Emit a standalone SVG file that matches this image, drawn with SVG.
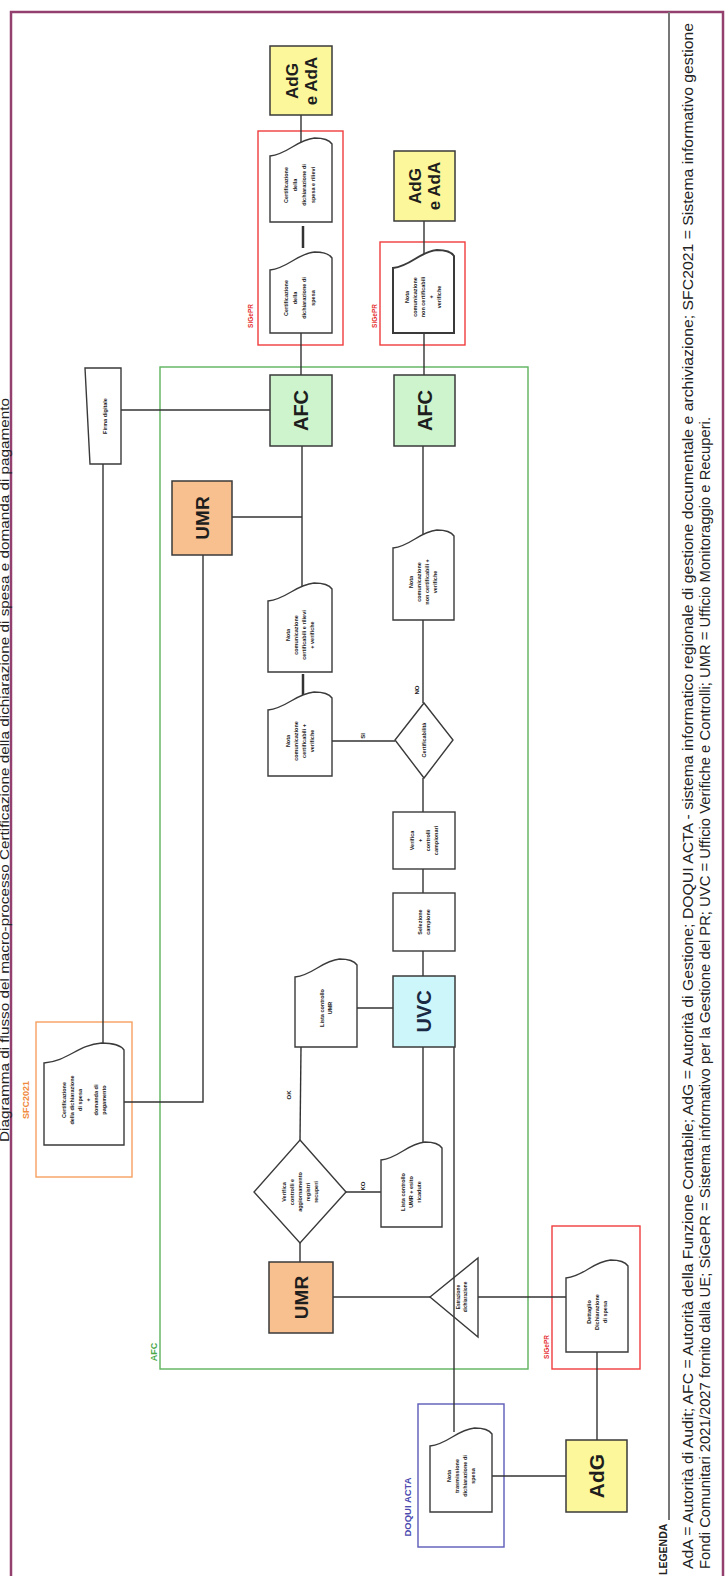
<svg xmlns="http://www.w3.org/2000/svg" width="726" height="1576" viewBox="0 0 726 1576">
<style>
.frame{fill:none;stroke:#93406e;stroke-width:2.5}
.box{stroke:#3a3a3a;stroke-width:1.5}
.doc{fill:#fff;stroke:#3a3a3a;stroke-width:1.4}
.conn{stroke:#333;stroke-width:1.4;fill:none}
.cont{fill:none;stroke-width:1.4}
.t{font-family:'Liberation Sans',Arial,sans-serif;font-weight:bold;font-size:5.5px;fill:#222;text-anchor:middle}
.big{font-size:20px;fill:#1e1e1e}
.mid{font-size:17px;fill:#1e1e1e}
.lab{font-family:'Liberation Sans',Arial,sans-serif;font-weight:bold;text-anchor:middle}
.leg{font-family:'Liberation Sans',Arial,sans-serif;font-size:14px;fill:#222}
.yel{fill:#fcf79a}
.grn{fill:#cdf4cd}
.org{fill:#f8c08f}
.cyn{fill:#cdf6fb}
</style>

<rect class="frame" x="11" y="12" width="712" height="1600"/>
<line x1="669" y1="12" x2="669" y2="1520" stroke="#777" stroke-width="2"/>

<text class="leg" style="font-size:13.5px" transform="translate(9,1142) rotate(-90)" textLength="744" lengthAdjust="spacingAndGlyphs">Diagramma di flusso del macro-processo Certificazione della dichiarazione di spesa e domanda di pagamento</text>

<g id="legend">
<text class="leg" style="font-weight:bold;font-size:10.5px" transform="translate(667,1575) rotate(-90)">LEGENDA</text>
<text class="leg" transform="translate(693,1569) rotate(-90)" textLength="1546" lengthAdjust="spacingAndGlyphs">AdA = Autorità di Audit; AFC = Autorità della Funzione Contabile; AdG = Autorità di Gestione; DOQUI ACTA - sistema informatico regionale di gestione documentale e archiviazione; SFC2021 = Sistema informativo gestione</text>
<text class="leg" transform="translate(710,1569) rotate(-90)" textLength="1152" lengthAdjust="spacingAndGlyphs">Fondi Comunitari 2021/2027 fornito dalla UE; SiGePR = Sistema informativo per la Gestione del PR; UVC = Ufficio Verifiche e Controlli; UMR = Ufficio Monitoraggio e Recuperi.</text>
</g>

<g id="containers">
<rect class="cont" x="160" y="367" width="368" height="1002" stroke="#5db35d"/>
<text class="lab" style="font-size:9px;fill:#4aa84a" transform="translate(157,1352) rotate(-90)">AFC</text>
<rect class="cont" x="258" y="131" width="85" height="214" stroke="#f03c3c"/>
<text class="lab" style="font-size:6.5px;fill:#e53030" transform="translate(253,316) rotate(-90)">SiGePR</text>
<rect class="cont" x="380" y="242" width="85" height="103" stroke="#f03c3c"/>
<text class="lab" style="font-size:6.5px;fill:#e53030" transform="translate(377,316) rotate(-90)">SiGePR</text>
<rect class="cont" x="552" y="1226" width="88" height="143" stroke="#f03c3c"/>
<text class="lab" style="font-size:6.5px;fill:#e53030" transform="translate(549,1347) rotate(-90)">SiGePR</text>
<rect class="cont" x="36" y="1022" width="96" height="155" stroke="#f5a060"/>
<text class="lab" style="font-size:9px;fill:#f08a40" transform="translate(29,1100) rotate(-90)">SFC2021</text>
<rect class="cont" x="418" y="1404" width="86" height="143" stroke="#5a5ab8"/>
<text class="lab" style="font-size:9.5px;fill:#4a4ab0" transform="translate(411,1507) rotate(-90)">DOQUI ACTA</text>
</g>

<g id="connectors" class="conn">
<line x1="301" y1="115" x2="301" y2="146"/>
<line x1="303" y1="226" x2="303" y2="248" stroke-width="2.5"/>
<line x1="301" y1="333" x2="301" y2="375"/>
<line x1="424" y1="221" x2="424" y2="256"/>
<line x1="424" y1="333" x2="424" y2="375"/>
<line x1="121" y1="410" x2="270" y2="410"/>
<line x1="103" y1="464" x2="103" y2="1044"/>
<line x1="302" y1="446" x2="302" y2="590"/>
<line x1="232" y1="517" x2="302" y2="517"/>
<polyline points="203,555 203,1102 124,1102"/>
<line x1="303" y1="674" x2="303" y2="698" stroke-width="2.5"/>
<line x1="423" y1="446" x2="423" y2="534"/>
<line x1="423" y1="620" x2="423" y2="703"/>
<line x1="395" y1="741" x2="332" y2="741"/>
<line x1="423" y1="778" x2="423" y2="812"/>
<line x1="423" y1="869" x2="423" y2="893"/>
<line x1="423" y1="951" x2="423" y2="976"/>
<line x1="357" y1="1008" x2="393" y2="1008"/>
<line x1="301" y1="1047" x2="300" y2="1140"/>
<line x1="423" y1="1047" x2="423" y2="1148"/>
<line x1="454" y1="1047" x2="454" y2="1432"/>
<line x1="346" y1="1192" x2="381" y2="1192"/>
<line x1="300" y1="1243" x2="300" y2="1262"/>
<line x1="333" y1="1297" x2="430" y2="1297"/>
<line x1="478" y1="1297" x2="566" y2="1297"/>
<line x1="597" y1="1352" x2="597" y2="1440"/>
<line x1="492" y1="1476" x2="566" y2="1476"/>
</g>

<g id="edge-labels">
<text class="t" style="font-size:6px" transform="translate(419,690) rotate(-90)">NO</text>
<text class="t" style="font-size:6px" transform="translate(365,736) rotate(-90)">SI</text>
<text class="t" style="font-size:6px" transform="translate(291,1095) rotate(-90)">OK</text>
<text class="t" style="font-size:6px" transform="translate(365,1186) rotate(-90)">KO</text>
</g>

<g id="adg-ada-1">
<rect class="box yel" x="270" y="46" width="62" height="69"/>
<text class="t mid" transform="translate(301,81) rotate(-90)"><tspan x="0" y="-3.5">AdG</tspan><tspan x="0" y="15.5">e AdA</tspan></text>
</g>

<g id="adg-ada-2">
<rect class="box yel" x="394" y="151" width="61" height="70"/>
<text class="t mid" transform="translate(424,186) rotate(-90)"><tspan x="0" y="-3.5">AdG</tspan><tspan x="0" y="15.5">e AdA</tspan></text>
</g>

<g id="doc-cert-rilievi">
<path class="doc" d="M270,222 L270,156 C288.6,154 296,140 314.6,138 Q328,138 332,144 L332,222 Z"/>
<text class="t" transform="translate(300,185) rotate(-90)"><tspan x="0" y="-12.1">Certificazione</tspan><tspan x="0" y="-3.1">della</tspan><tspan x="0" y="5.9">dichiarazione di</tspan><tspan x="0" y="14.9">spesa e rilievi</tspan></text>
</g>

<g id="doc-cert">
<path class="doc" d="M270,333 L270,270 C288.6,268 296,254 314.6,252 Q328,252 332,258 L332,333 Z"/>
<text class="t" transform="translate(300,298) rotate(-90)"><tspan x="0" y="-12.1">Certificazione</tspan><tspan x="0" y="-3.1">della</tspan><tspan x="0" y="5.9">dichiarazione di</tspan><tspan x="0" y="14.9">spesa</tspan></text>
</g>

<g id="doc-nota-noncert-1">
<path class="doc" style="stroke-width:2" d="M393,333 L393,268 C411.3,266 418.6,252 436.9,250 Q450,250 454,256 L454,333 Z"/>
<text class="t" transform="translate(423,297) rotate(-90)"><tspan x="0" y="-14.1">Nota</tspan><tspan x="0" y="-6.1">comunicazione</tspan><tspan x="0" y="1.9">non certificabili</tspan><tspan x="0" y="9.9">+</tspan><tspan x="0" y="17.9">verifiche</tspan></text>
</g>

<g id="firma">
<path class="doc" d="M85,368 L121,368 L121,464 L90,464 Z"/>
<text class="t" transform="translate(105,416) rotate(-90)"><tspan x="0" y="1.9">Firma digitale</tspan></text>
</g>

<g id="afc-1">
<rect class="box grn" x="270" y="375" width="62" height="71"/>
<text class="t big" transform="translate(301,410.5) rotate(-90)" y="7">AFC</text>
</g>

<g id="afc-2">
<rect class="box grn" x="394" y="375" width="61" height="71"/>
<text class="t big" transform="translate(424.5,410.5) rotate(-90)" y="7">AFC</text>
</g>

<g id="umr-1">
<rect class="box org" x="172" y="481" width="60" height="74"/>
<text class="t big" style="font-size:19px" transform="translate(202,518) rotate(-90)" y="6.7">UMR</text>
</g>

<g id="doc-nota-noncert-2">
<path class="doc" d="M393,620 L393,548 C411.3,546 418.6,532 436.9,530 Q450,530 454,536 L454,620 Z"/>
<text class="t" transform="translate(423,582) rotate(-90)"><tspan x="0" y="-10.1">Nota</tspan><tspan x="0" y="-2.1">comunicazione</tspan><tspan x="0" y="5.9">non certificabili +</tspan><tspan x="0" y="13.9">verifiche</tspan></text>
</g>

<g id="doc-nota-cert-rilievi">
<path class="doc" d="M268,672 L268,601 C287.2,599 294.9,585 314.1,583 Q328,583 332,589 L332,672 Z"/>
<text class="t" transform="translate(300,635) rotate(-90)"><tspan x="0" y="-10.1">Nota</tspan><tspan x="0" y="-2.1">comunicazione</tspan><tspan x="0" y="5.9">certificabili e rilievi</tspan><tspan x="0" y="13.9">+ verifiche</tspan></text>
</g>

<g id="doc-nota-cert">
<path class="doc" d="M268,776 L268,710 C287.2,708 294.9,694 314.1,692 Q328,692 332,698 L332,776 Z"/>
<text class="t" transform="translate(300,741) rotate(-90)"><tspan x="0" y="-10.1">Nota</tspan><tspan x="0" y="-2.1">comunicazione</tspan><tspan x="0" y="5.9">certificabili +</tspan><tspan x="0" y="13.9">verifiche</tspan></text>
</g>

<g id="dec-certificabilita">
<polygon class="doc" points="424,703 453,740 424,778 395,740"/>
<text class="t" transform="translate(424,740) rotate(-90)"><tspan x="0" y="1.9">Certificabilità</tspan></text>
</g>

<g id="verifica-controlli">
<rect class="doc" x="393" y="812" width="62" height="57"/>
<text class="t" transform="translate(424,840.5) rotate(-90)"><tspan x="0" y="-10.1">Verifica</tspan><tspan x="0" y="-2.1">+</tspan><tspan x="0" y="5.9">controlli</tspan><tspan x="0" y="13.9">campionari</tspan></text>
</g>

<g id="selezione-campione">
<rect class="doc" x="393" y="893" width="62" height="58"/>
<text class="t" transform="translate(424,922) rotate(-90)"><tspan x="0" y="-2.1">Selezione</tspan><tspan x="0" y="5.9">campione</tspan></text>
</g>

<g id="uvc">
<rect class="box cyn" x="393" y="976" width="62" height="71"/>
<text class="t big" style="fill:#1a2a44" transform="translate(424,1011.5) rotate(-90)" y="7">UVC</text>
</g>

<g id="doc-lista-umr">
<path class="doc" d="M295,1047 L295,977 C313.6,975 321,961 339.6,959 Q353,959 357,965 L357,1047 Z"/>
<text class="t" transform="translate(326,1008) rotate(-90)"><tspan x="0" y="-2.1">Lista controllo</tspan><tspan x="0" y="5.9">UMR</tspan></text>
</g>

<g id="dec-verifica-controlli">
<polygon class="doc" points="300,1140 346,1192 300,1243 254,1192"/>
<text class="t" transform="translate(300,1192) rotate(-90)"><tspan x="0" y="-14.1">Verifica</tspan><tspan x="0" y="-6.1">controlli e</tspan><tspan x="0" y="1.9">aggiornamento</tspan><tspan x="0" y="9.9">registri</tspan><tspan x="0" y="17.9">recuperi</tspan></text>
</g>

<g id="doc-lista-esito">
<path class="doc" d="M381,1227 L381,1160 C399.3,1158 406.6,1144 424.9,1142 Q438,1142 442,1148 L442,1227 Z"/>
<text class="t" transform="translate(411,1192) rotate(-90)"><tspan x="0" y="-6.1">Lista controllo</tspan><tspan x="0" y="1.9">UMR + esito</tspan><tspan x="0" y="9.9">ricadute</tspan></text>
</g>

<g id="umr-2">
<rect class="box org" x="269" y="1262" width="64" height="71"/>
<text class="t big" style="font-size:19px" transform="translate(301,1297.5) rotate(-90)" y="6.7">UMR</text>
</g>

<g id="estrazione">
<polygon points="430,1297 478,1258 478,1337" fill="none" stroke="#3a3a3a" stroke-width="1.4"/>
<text class="t" style="font-size:4.8px" transform="translate(462,1297) rotate(-90)"><tspan x="0" y="-2.3">Estrazione</tspan><tspan x="0" y="5">dichiarazione</tspan></text>
</g>

<g id="doc-dettaglio">
<path class="doc" d="M566,1352 L566,1278 C584.6,1276 592,1262 610.6,1260 Q624,1260 628,1266 L628,1352 Z"/>
<text class="t" transform="translate(597,1312) rotate(-90)"><tspan x="0" y="-6.1">Dettaglio</tspan><tspan x="0" y="1.9">Dichiarazione</tspan><tspan x="0" y="9.9">di spesa</tspan></text>
</g>

<g id="adg">
<rect class="box yel" x="566" y="1440" width="61" height="72"/>
<text class="t big" style="font-size:21px" transform="translate(596.5,1476) rotate(-90)" y="7.4">AdG</text>
</g>

<g id="doc-nota-trasmissione">
<path class="doc" d="M430,1512 L430,1446 C448.6,1444 456,1430 474.6,1428 Q488,1428 492,1434 L492,1512 Z"/>
<text class="t" transform="translate(461,1476) rotate(-90)"><tspan x="0" y="-10.1">Nota</tspan><tspan x="0" y="-2.1">trasmissione</tspan><tspan x="0" y="5.9">dichiarazione di</tspan><tspan x="0" y="13.9">spesa</tspan></text>
</g>

<g id="doc-sfc">
<path class="doc" d="M44,1145 L44,1063 C68,1061 77.6,1045 101.6,1043 Q119,1043 124,1050 L124,1145 Z"/>
<text class="t" transform="translate(84,1100) rotate(-90)"><tspan x="0" y="-18.1">Certificazione</tspan><tspan x="0" y="-10.1">della dichiarazione</tspan><tspan x="0" y="-2.1">di spesa</tspan><tspan x="0" y="5.9">+</tspan><tspan x="0" y="13.9">domanda di</tspan><tspan x="0" y="21.9">pagamento</tspan></text>
</g>
</svg>
